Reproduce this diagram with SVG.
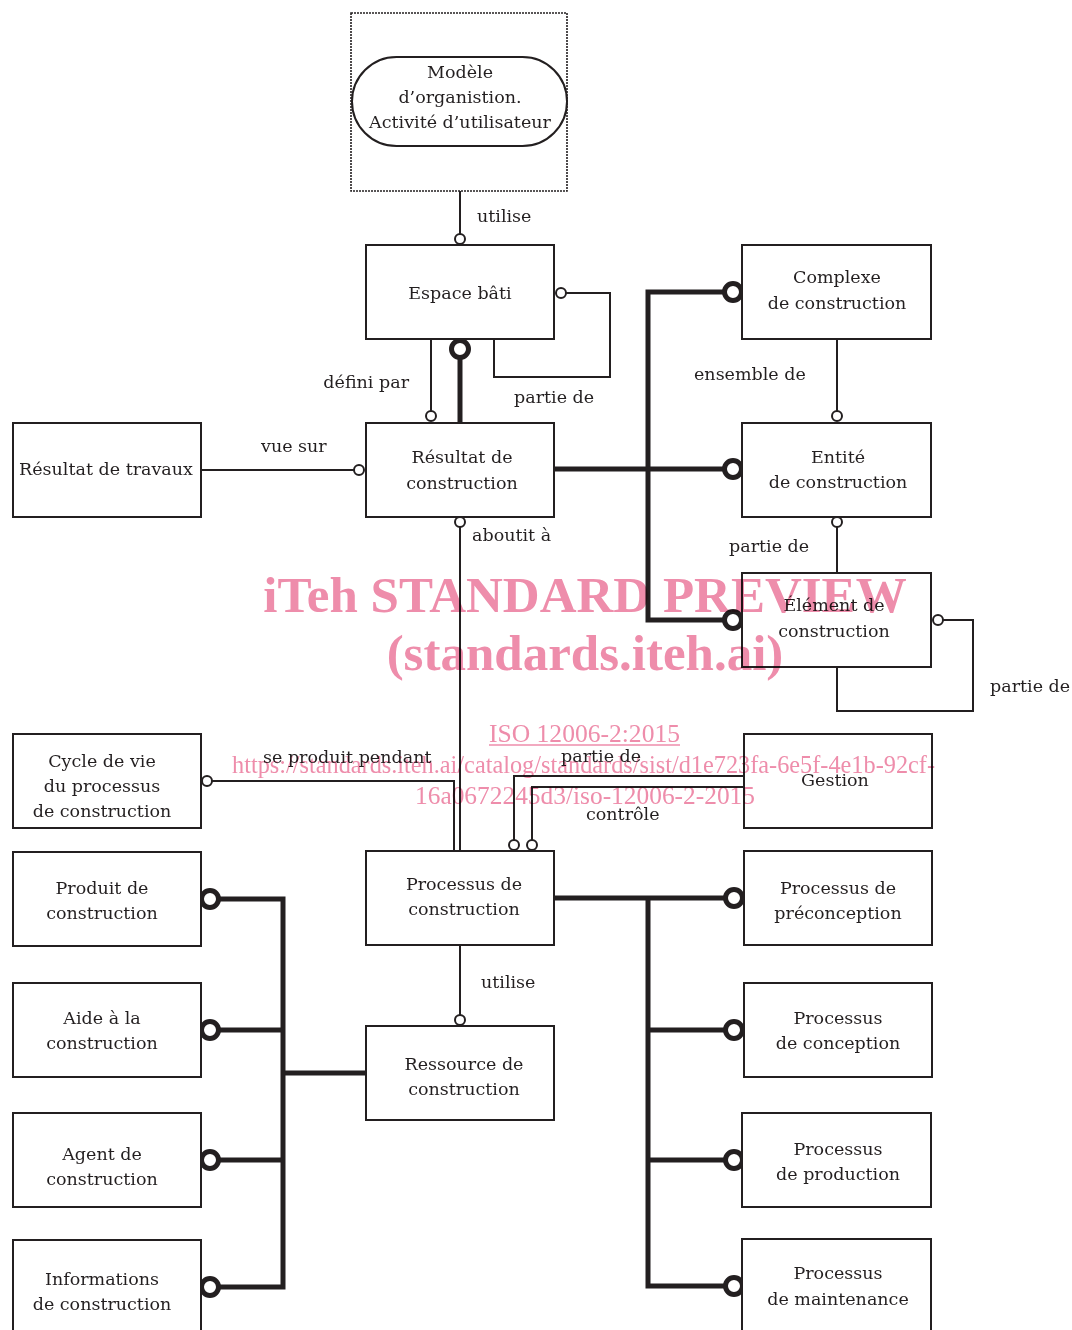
<svg xmlns="http://www.w3.org/2000/svg" width="1072" height="1330" viewBox="0 0 1072 1330">
<style>
.box{fill:#fff;stroke:#231f20;stroke-width:2}
.t{font-family:"DejaVu Serif","Liberation Serif",serif;font-size:17.5px;fill:#231f20}
.c{text-anchor:middle}
.ln{fill:none;stroke:#231f20;stroke-width:2}
.hv{fill:none;stroke:#231f20;stroke-width:5}
.o{fill:#fff;stroke:#231f20;stroke-width:2}
.O{fill:#fff;stroke:#231f20;stroke-width:5}
.wm{font-family:"Liberation Serif","Times New Roman",serif;fill:#ee8dab}
</style>
<rect width="1072" height="1330" fill="#fff"/>

<g id="connectors">
  <line class="ln" x1="460" y1="191" x2="460" y2="234"/>
  <polyline class="ln" points="566,293 610,293 610,377 494,377 494,339"/>
  <line class="ln" x1="431" y1="339" x2="431" y2="411"/>
  <line class="hv" x1="460" y1="358" x2="460" y2="423"/>
  <line class="ln" x1="201" y1="470" x2="354" y2="470"/>
  <polyline class="hv" points="554,469 648,469"/>
  <polyline class="hv" points="725,292 648,292 648,620 725,620"/>
  <line class="hv" x1="648" y1="469" x2="725" y2="469"/>
  <line class="ln" x1="837" y1="339" x2="837" y2="411"/>
  <line class="ln" x1="837" y1="527" x2="837" y2="573"/>
  <polyline class="ln" points="943,620 973,620 973,711 837,711 837,667"/>
  <line class="ln" x1="460" y1="527" x2="460" y2="851"/>
  <polyline class="ln" points="212,781 454,781 454,851"/>
  <polyline class="ln" points="744,776 514,776 514,840"/>
  <polyline class="ln" points="744,787 532,787 532,840"/>
  <line class="hv" x1="554" y1="898" x2="725" y2="898"/>
  <polyline class="hv" points="648,898 648,1286 725,1286"/>
  <line class="hv" x1="648" y1="1030" x2="725" y2="1030"/>
  <line class="hv" x1="648" y1="1160" x2="725" y2="1160"/>
  <line class="ln" x1="460" y1="945" x2="460" y2="1015"/>
  <polyline class="hv" points="219,899 283,899 283,1287 219,1287"/>
  <line class="hv" x1="219" y1="1030" x2="283" y2="1030"/>
  <line class="hv" x1="219" y1="1160" x2="283" y2="1160"/>
  <line class="hv" x1="283" y1="1073" x2="367" y2="1073"/>
  <circle class="o" cx="460" cy="239" r="5"/>
  <circle class="o" cx="561" cy="293" r="5"/>
  <circle class="o" cx="431" cy="416" r="5"/>
  <circle class="O" cx="460" cy="349" r="8.5"/>
  <circle class="o" cx="359" cy="470" r="5"/>
  <circle class="O" cx="733" cy="292" r="8.5"/>
  <circle class="O" cx="733" cy="469" r="8.5"/>
  <circle class="O" cx="733" cy="620" r="8.5"/>
  <circle class="o" cx="837" cy="416" r="5"/>
  <circle class="o" cx="837" cy="522" r="5"/>
  <circle class="o" cx="938" cy="620" r="5"/>
  <circle class="o" cx="460" cy="522" r="5"/>
  <circle class="o" cx="207" cy="781" r="5"/>
  <circle class="o" cx="514" cy="845" r="5"/>
  <circle class="o" cx="532" cy="845" r="5"/>
  <circle class="o" cx="460" cy="1020" r="5"/>
  <circle class="O" cx="734" cy="898" r="8.5"/>
  <circle class="O" cx="734" cy="1030" r="8.5"/>
  <circle class="O" cx="734" cy="1160" r="8.5"/>
  <circle class="O" cx="734" cy="1286" r="8.5"/>
  <circle class="O" cx="210" cy="899" r="8.5"/>
  <circle class="O" cx="210" cy="1030" r="8.5"/>
  <circle class="O" cx="210" cy="1160" r="8.5"/>
  <circle class="O" cx="210" cy="1287" r="8.5"/>
  <text class="t" x="477" y="222">utilise</text>
  <text class="t" x="409" y="388" text-anchor="end">défini par</text>
  <text class="t" x="514" y="403">partie de</text>
  <text class="t" x="261" y="452">vue sur</text>
  <text class="t" x="694" y="380">ensemble de</text>
  <text class="t" x="729" y="552">partie de</text>
  <text class="t" x="990" y="692">partie de</text>
  <text class="t" x="472" y="541">aboutit à</text>
  <text class="t" x="263" y="763">se produit pendant</text>
  <text class="t" x="561" y="762">partie de</text>
  <text class="t" x="586" y="820">contrôle</text>
  <text class="t" x="481" y="988">utilise</text>
</g>

<g id="modele">
  <rect x="351" y="13" width="216" height="178" fill="none" stroke="#231f20" stroke-width="1.6" stroke-dasharray="2,1"/>
  <rect x="352" y="57" width="215" height="89" rx="44.5" ry="44.5" class="box"/>
  <text class="t c" x="460" y="78">Modèle</text>
  <text class="t c" x="460" y="103">d’organistion.</text>
  <text class="t c" x="460" y="128">Activité d’utilisateur</text>
</g>
<g id="espace-bati"><rect class="box" x="366" y="245" width="188" height="94"/><text class="t c" x="460" y="299">Espace bâti</text></g>
<g id="resultat-construction"><rect class="box" x="366" y="423" width="188" height="94"/><text class="t c" x="462" y="463">Résultat de</text><text class="t c" x="462" y="489">construction</text></g>
<g id="resultat-travaux"><rect class="box" x="13" y="423" width="188" height="94"/><text class="t c" x="106" y="475">Résultat de travaux</text></g>
<g id="complexe"><rect class="box" x="742" y="245" width="189" height="94"/><text class="t c" x="837" y="283">Complexe</text><text class="t c" x="837" y="309">de construction</text></g>
<g id="entite"><rect class="box" x="742" y="423" width="189" height="94"/><text class="t c" x="838" y="463">Entité</text><text class="t c" x="838" y="488">de construction</text></g>
<g id="element"><rect class="box" x="742" y="573" width="189" height="94"/><text class="t c" x="834" y="611">Élément de</text><text class="t c" x="834" y="637">construction</text></g>
<g id="cycle-de-vie"><rect class="box" x="13" y="734" width="188" height="94"/><text class="t c" x="102" y="767">Cycle de vie</text><text class="t c" x="102" y="792">du processus</text><text class="t c" x="102" y="817">de construction</text></g>
<g id="gestion"><rect class="box" x="744" y="734" width="188" height="94"/><text class="t c" x="835" y="786">Gestion</text></g>
<g id="processus-construction"><rect class="box" x="366" y="851" width="188" height="94"/><text class="t c" x="464" y="890">Processus de</text><text class="t c" x="464" y="915">construction</text></g>
<g id="ressource"><rect class="box" x="366" y="1026" width="188" height="94"/><text class="t c" x="464" y="1070">Ressource de</text><text class="t c" x="464" y="1095">construction</text></g>
<g id="produit"><rect class="box" x="13" y="852" width="188" height="94"/><text class="t c" x="102" y="894">Produit de</text><text class="t c" x="102" y="919">construction</text></g>
<g id="aide"><rect class="box" x="13" y="983" width="188" height="94"/><text class="t c" x="102" y="1024">Aide à la</text><text class="t c" x="102" y="1049">construction</text></g>
<g id="agent"><rect class="box" x="13" y="1113" width="188" height="94"/><text class="t c" x="102" y="1160">Agent de</text><text class="t c" x="102" y="1185">construction</text></g>
<g id="informations"><rect class="box" x="13" y="1240" width="188" height="100"/><text class="t c" x="102" y="1285">Informations</text><text class="t c" x="102" y="1310">de construction</text></g>
<g id="preconception"><rect class="box" x="744" y="851" width="188" height="94"/><text class="t c" x="838" y="894">Processus de</text><text class="t c" x="838" y="919">préconception</text></g>
<g id="conception"><rect class="box" x="744" y="983" width="188" height="94"/><text class="t c" x="838" y="1024">Processus</text><text class="t c" x="838" y="1049">de conception</text></g>
<g id="production"><rect class="box" x="742" y="1113" width="189" height="94"/><text class="t c" x="838" y="1155">Processus</text><text class="t c" x="838" y="1180">de production</text></g>
<g id="maintenance"><rect class="box" x="742" y="1239" width="189" height="100"/><text class="t c" x="838" y="1279">Processus</text><text class="t c" x="838" y="1305">de maintenance</text></g>

<g id="watermark" style="mix-blend-mode:multiply">
  <text class="wm" x="585" y="612" text-anchor="middle" font-size="51" font-weight="bold">iTeh STANDARD PREVIEW</text>
  <text class="wm" x="585" y="670" text-anchor="middle" font-size="51" font-weight="bold">(standards.iteh.ai)</text>
  <text class="wm" x="489" y="742" font-size="25" textLength="191" lengthAdjust="spacingAndGlyphs">ISO 12006-2:2015</text>
  <line x1="489" y1="745" x2="680" y2="745" stroke="#ee8dab" stroke-width="1.5"/>
  <text class="wm" x="232" y="773" font-size="25" textLength="703" lengthAdjust="spacingAndGlyphs">https://standards.iteh.ai/catalog/standards/sist/d1e723fa-6e5f-4e1b-92cf-</text>
  <text class="wm" x="415" y="804" font-size="25" textLength="340" lengthAdjust="spacingAndGlyphs">16a0672245d3/iso-12006-2-2015</text>
</g>
</svg>
